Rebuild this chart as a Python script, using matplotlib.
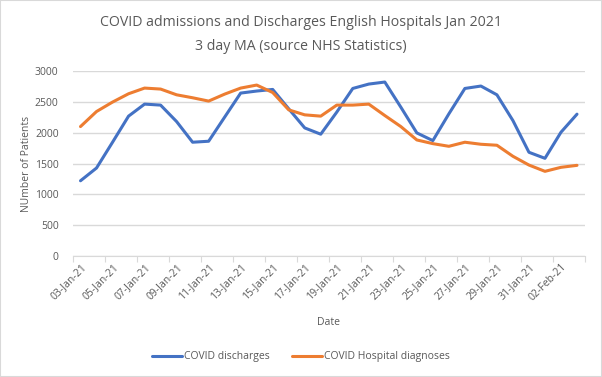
import numpy as np
import pandas as pd
import matplotlib
matplotlib.use("Agg")
import matplotlib.pyplot as plt
from matplotlib.patches import Rectangle

plt.rcParams['font.family'] = ['Open Sans', 'DejaVu Sans']

# 3 day moving averages, 03-Jan-21 .. 03-Feb-21
dates = pd.date_range("2021-01-03", "2021-02-03", freq="D")
date_labels = [d.strftime("%d-%b-%y") for d in dates]

discharges = [1220, 1427, 1845, 2268, 2463, 2447, 2180, 1845, 1861, 2252,
              2642, 2675, 2701, 2387, 2077, 1975, 2333, 2717, 2788, 2821,
              2414, 1996, 1871, 2305, 2717, 2756, 2614, 2196, 1682, 1584,
              2007, 2300]
diagnoses = [2099, 2343, 2496, 2631, 2723, 2707, 2614, 2566, 2512, 2625,
             2723, 2772, 2651, 2370, 2289, 2268, 2447, 2447, 2463, 2278,
             2099, 1882, 1822, 1779, 1845, 1812, 1796, 1617, 1475, 1373,
             1438, 1470]

blue = '#4472C4'
orange = '#ED7D31'
grid = '#D9D9D9'
txt = '#595959'

fig = plt.figure(figsize=(6.02, 3.77), dpi=100)
fig.patches.append(Rectangle((0, 0), 1, 1, transform=fig.transFigure,
                             fill=False, edgecolor=grid, lw=1.5))
ax = fig.add_axes([72.5/602, 1-256/377, (585-72.5)/602, (256-71)/377])

x = np.arange(len(dates))
ax.plot(x, discharges, color=blue, lw=2.2, label='COVID discharges',
        solid_joinstyle='round', solid_capstyle='round')
ax.plot(x, diagnoses, color=orange, lw=2.2, label='COVID Hospital diagnoses',
        solid_joinstyle='round', solid_capstyle='round')

ax.set_xlim(-0.5, len(dates) - 0.5)
ax.set_ylim(0, 3000)
ax.set_yticks(np.arange(0, 3001, 500))
ax.yaxis.grid(True, color=grid, lw=1)
ax.set_axisbelow(True)
for s in ['top', 'right', 'left']:
    ax.spines[s].set_visible(False)
ax.spines['bottom'].set_color(grid)
ax.tick_params(axis='y', length=0, pad=10, labelsize=7.5, labelcolor=txt)

# tick marks between categories, labels on every second category
ax.set_xticks(np.arange(-0.5, len(dates), 2))
ax.set_xticklabels([])
ax.tick_params(axis='x', which='major', length=4, color=grid)
ax.set_xticks(x[::2], minor=True)
ax.set_xticklabels(date_labels[::2], minor=True, rotation=45, ha='right',
                   va='top', rotation_mode='anchor')
ax.tick_params(axis='x', which='minor', length=0, pad=4, labelsize=7.5,
               labelcolor=txt)

ax.set_xlabel('Date', fontsize=7.5, color=txt, labelpad=10)
ax.set_ylabel('NUmber of Patients', fontsize=7.5, color=txt, labelpad=2)

fig.text(0.5, 1-22/377, 'COVID admissions and Discharges English Hospitals Jan 2021',
         ha='center', va='center', fontsize=10.2, color=txt)
fig.text(0.5, 1-46/377, '3 day MA (source NHS Statistics)',
         ha='center', va='center', fontsize=10.2, color=txt)

fig.legend(loc='center', bbox_to_anchor=(0.5, 1-357/377), ncol=2,
           frameon=False, fontsize=7.5, labelcolor=txt, handlelength=2.8,
           columnspacing=2.2, handletextpad=0.2)

fig.savefig('out.png', dpi=100)
